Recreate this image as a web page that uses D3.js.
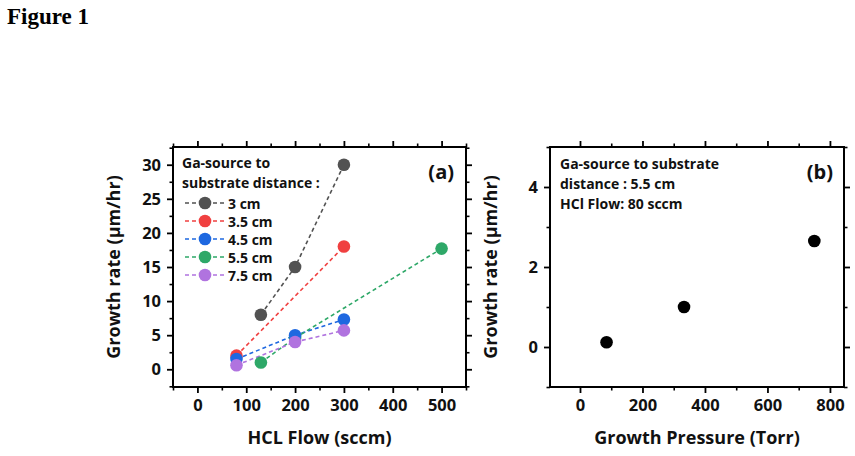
<!DOCTYPE html>
<html>
<head>
<meta charset="utf-8">
<script src="https://cdn.jsdelivr.net/npm/d3@7"></script>
<style>
  body { margin: 0; background: #fff; }
  svg text { font-family: 'Open Sans', Lato, sans-serif; font-weight: 700; fill: #111; }
</style>
</head>
<body>
<svg id="chart" width="855" height="456"></svg>
<script>
// panel (a): growth rate vs HCl flow, one series per source distance
const seriesNames = ['3 cm', '3.5 cm', '4.5 cm', '5.5 cm', '7.5 cm'];
const seriesColors = ['#525252', '#f04040', '#1e68e0', '#2ea868', '#b073df'];
const flow3 = [130, 200, 300], rate3 = [8, 15, 30];
const flow35 = [80, 300], rate35 = [2, 18];
const flow45 = [80, 200, 300], rate45 = [1.5, 5, 7.3];
const flow55 = [130, 200, 500], rate55 = [1, 4.6, 17.7];
const flow75 = [80, 200, 300], rate75 = [0.6, 4, 5.7];
const xTicksA = [0, 100, 200, 300, 400, 500];
const yTicksA = [0, 5, 10, 15, 20, 25, 30];

// panel (b): growth rate vs pressure
const pressure = [85, 333, 750];
const rateB = [0.12, 1.0, 2.65];
const xTicksB = [0, 200, 400, 600, 800];
const yTicksB = [0, 2, 4];

const seriesA = [
  [flow3, rate3], [flow35, rate35], [flow45, rate45], [flow55, rate55], [flow75, rate75]
].map(([xs, ys], i) => ({
  name: seriesNames[i],
  color: seriesColors[i],
  values: xs.map((x, j) => ({ x, y: ys[j] }))
}));

const svg = d3.select('#chart');

svg.append('text')
  .attr('x', 7).attr('y', 24)
  .style('font-family', "'Liberation Serif', 'Times New Roman', serif")
  .style('font-size', '23px')
  .style('fill', '#000')
  .text('Figure 1');

function drawFrame(g, x, y, xMajor, xMinor, yMajor, yMinor, xLabel) {
  const w = x.range()[1], h = y.range()[0];
  const major = 6, minor = 3.5;

  const axes = [
    { ax: d3.axisBottom(x), tr: `translate(0,${h})`, vals: xMajor, mvals: xMinor, labels: true },
    { ax: d3.axisTop(x), tr: 'translate(0,0)', vals: xMajor, mvals: xMinor, labels: false },
    { ax: d3.axisLeft(y), tr: 'translate(0,0)', vals: yMajor, mvals: yMinor, labels: true },
    { ax: d3.axisRight(y), tr: `translate(${w},0)`, vals: yMajor, mvals: yMinor, labels: false }
  ];
  axes.forEach(a => {
    g.append('g').attr('class', 'minor').attr('transform', a.tr)
      .call(a.ax.tickValues(a.mvals).tickSize(minor).tickFormat('').tickSizeOuter(0))
      .call(s => s.select('.domain').remove())
      .selectAll('line').attr('stroke', '#000').attr('stroke-width', 1.6);
    const ag = g.append('g').attr('transform', a.tr)
      .call(a.ax.tickValues(a.vals).tickSize(major).tickSizeOuter(0)
        .tickFormat(a.labels ? d3.format('d') : '').tickPadding(6));
    ag.select('.domain').remove();
    ag.selectAll('line').attr('stroke', '#000').attr('stroke-width', 1.8);
    ag.selectAll('text').style('font-size', '16.5px').style('fill', '#111');
  });

  g.append('rect')
    .attr('width', w).attr('height', h)
    .attr('fill', 'none').attr('stroke', '#000').attr('stroke-width', 2);

  g.append('text')
    .attr('x', w / 2).attr('y', h + 57)
    .attr('text-anchor', 'middle')
    .style('font-size', '18px')
    .text(xLabel);

  g.append('text')
    .attr('transform', 'rotate(-90)')
    .attr('x', -h / 2).attr('y', -53)
    .attr('text-anchor', 'middle')
    .style('font-size', '18px')
    .text('Growth rate (\u03bcm/hr)');
}

/* panel (a) */
const gA = svg.append('g').attr('transform', 'translate(173,147)');
const xA = d3.scaleLinear().domain([-50, 550]).range([0, 293]);
const yA = d3.scaleLinear().domain([-2.6, 32.6]).range([240, 0]);

drawFrame(gA, xA, yA, xTicksA, d3.range(-50, 551, 50).filter(v => v % 100 !== 0),
  yTicksA, d3.range(-2.5, 32.6, 5), 'HCL Flow (sccm)');

const line = d3.line().x(d => xA(d.x)).y(d => yA(d.y));

gA.selectAll('.ml-line')
  .data(seriesA)
  .enter()
  .append('path')
  .attr('class', 'ml-line')
  .attr('d', d => line(d.values))
  .attr('fill', 'none')
  .attr('stroke', d => d.color)
  .attr('stroke-width', 1.6)
  .attr('stroke-dasharray', '4,3');

// draw markers back to front so the lower series sit on top like the original
const order = [0, 1, 3, 2, 4];
order.forEach(i => {
  gA.append('g')
    .selectAll('circle')
    .data(seriesA[i].values)
    .enter()
    .append('circle')
    .attr('cx', d => xA(d.x))
    .attr('cy', d => yA(d.y))
    .attr('r', 6.3)
    .attr('fill', seriesA[i].color);
});

gA.append('text').attr('x', 9).attr('y', 21).style('font-size', '14px').text('Ga-source to');
gA.append('text').attr('x', 9).attr('y', 41).style('font-size', '14px').text('substrate distance :');

const legend = gA.append('g').attr('transform', 'translate(0,56)');
seriesA.forEach((s, i) => {
  const row = legend.append('g').attr('transform', `translate(0,${i * 18})`);
  row.append('line')
    .attr('x1', 12).attr('x2', 52)
    .attr('stroke', s.color).attr('stroke-width', 1.6)
    .attr('stroke-dasharray', '4,3');
  row.append('circle').attr('cx', 32).attr('r', 6.3).attr('fill', s.color);
  row.append('text').attr('x', 55).attr('y', 5.5).style('font-size', '14px').text(s.name);
});

gA.append('text')
  .attr('x', 281).attr('y', 32)
  .attr('text-anchor', 'end')
  .style('font-size', '20px')
  .text('(a)');

/* panel (b) */
const gB = svg.append('g').attr('transform', 'translate(550,147)');
const xB = d3.scaleLinear().domain([-96, 845]).range([0, 294]);
const yB = d3.scaleLinear().domain([-1, 5]).range([240, 0]);

drawFrame(gB, xB, yB, xTicksB, [100, 300, 500, 700],
  yTicksB, [-1, 1, 3, 5], 'Growth Pressure (Torr)');

gB.append('g')
  .selectAll('circle')
  .data(pressure.map((p, i) => ({ x: p, y: rateB[i] })))
  .enter()
  .append('circle')
  .attr('cx', d => xB(d.x))
  .attr('cy', d => yB(d.y))
  .attr('r', 6.3)
  .attr('fill', '#000');

['Ga-source to substrate', 'distance : 5.5 cm', 'HCl Flow: 80 sccm'].forEach((t, i) => {
  gB.append('text')
    .attr('x', 10).attr('y', 22 + i * 20)
    .style('font-size', '14px')
    .text(t);
});

gB.append('text')
  .attr('x', 283).attr('y', 32)
  .attr('text-anchor', 'end')
  .style('font-size', '20px')
  .text('(b)');
</script>
</body>
</html>
